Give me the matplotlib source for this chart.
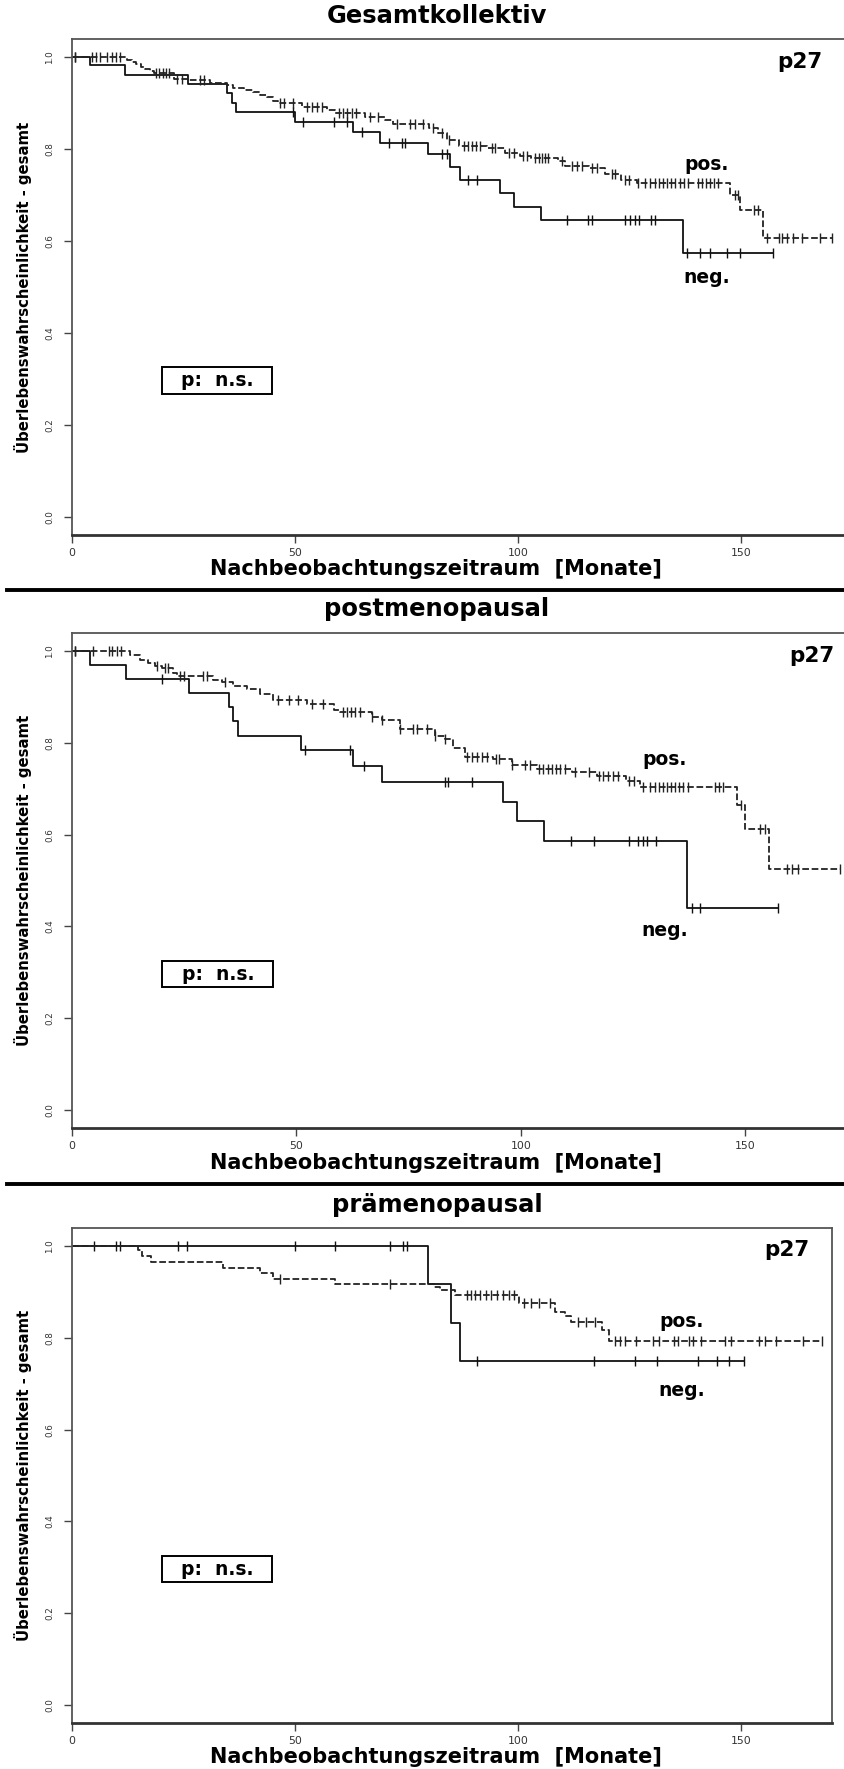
import matplotlib
matplotlib.use("Agg")
import matplotlib.pyplot as plt
from matplotlib.lines import Line2D
from matplotlib.patches import Rectangle
import numpy as np

plt.rcParams['font.family'] = 'DejaVu Sans'

titles = ["Gesamtkollektiv", "postmenopausal", "prämenopausal"]
xlab = "Nachbeobachtungszeitraum  [Monate]"
ylab = "Überlebenswahrscheinlichkeit - gesamt"

# Gesamtkollektiv: event times (Monate), survival after event, censor times
neg1_t = [4.0, 11.9, 26.0, 34.7, 36.0, 36.8, 50.0, 63.0, 69.1, 79.9, 84.8, 87.0, 96.0, 99.0, 105.2, 136.9]
neg1_s = [0.983, 0.962, 0.943, 0.922, 0.901, 0.880, 0.859, 0.837, 0.814, 0.790, 0.761, 0.734, 0.705, 0.675, 0.646, 0.573]
neg1_c = [0.8, 49.5, 51.9, 58.8, 61.8, 65.0, 71.0, 74.0, 74.7, 82.9, 84.0, 88.9, 90.8, 111.0, 115.8, 116.5,
          123.9, 125.2, 126.2, 127.1, 129.9, 130.8, 137.8, 140.8, 143.1, 146.8, 149.8, 157.2]

pos1_t = [12.5, 13.5, 14.5, 15.5, 16.5, 17.5, 18.5, 23.0, 26.0, 31.0, 34.7, 36.2, 38.5, 40.7, 42.2, 43.7, 45.2,
          46.3, 51.5, 57.1, 59.0, 65.7, 70.2, 72.1, 80.0, 82.0, 84.2, 86.7, 93.0, 97.0, 100.5, 103.0, 109.0,
          110.5, 116.0, 119.5, 123.0, 126.6, 147.5, 149.8, 155.0]
pos1_s = [0.995, 0.990, 0.985, 0.980, 0.975, 0.970, 0.966, 0.953, 0.950, 0.945, 0.939, 0.933, 0.928, 0.924,
          0.919, 0.913, 0.906, 0.901, 0.893, 0.886, 0.879, 0.870, 0.864, 0.855, 0.846, 0.836, 0.821, 0.807,
          0.803, 0.792, 0.785, 0.781, 0.775, 0.763, 0.759, 0.745, 0.734, 0.727, 0.701, 0.667, 0.607]
pos1_c = [0.8, 4.5, 5.4, 6.3, 8.0, 9.0, 9.9, 10.8, 18.9, 19.6, 20.4, 21.1, 21.9, 23.7, 24.7, 28.7, 29.7,
          46.7, 47.6, 49.7, 52.7, 53.8, 54.9, 56.0, 60.0, 60.9, 61.8, 62.7, 63.7, 66.9, 68.7, 72.8, 75.8,
          76.9, 78.8, 81.0, 83.0, 84.6, 87.8, 88.7, 89.6, 90.5, 91.5, 94.1, 94.9, 97.9, 99.0, 101.2, 102.0,
          103.8, 104.6, 105.3, 106.1, 106.8, 109.8, 112.0, 113.2, 114.3, 116.5, 117.7, 121.0, 121.8, 124.0,
          124.8, 127.0, 128.5, 129.6, 130.6, 131.5, 132.4, 133.3, 134.3, 135.2, 136.2, 137.1, 138.1, 140.4,
          141.2, 142.1, 143.1, 144.0, 144.9, 148.7, 149.3, 152.8, 153.7, 155.8, 158.4, 159.1, 160.2, 161.7,
          163.6, 167.7, 170.3]

# postmenopausal
neg2_t = [4.1, 12.2, 26.2, 35.1, 36.0, 37.1, 51.1, 62.7, 69.0, 96.1, 99.1, 105.2, 137.1]
neg2_s = [0.971, 0.940, 0.909, 0.878, 0.848, 0.815, 0.784, 0.750, 0.714, 0.672, 0.630, 0.586, 0.440]
neg2_c = [0.8, 20.0, 52.0, 62.0, 65.0, 83.1, 83.9, 89.1, 111.2, 116.2, 124.2, 126.1, 127.2, 128.1, 130.1,
          138.1, 139.9, 157.2]

pos2_t = [13.0, 15.2, 17.1, 18.6, 20.0, 22.6, 23.4, 31.5, 33.5, 36.0, 39.0, 41.9, 44.9, 52.3, 58.3, 59.8,
          66.8, 69.0, 73.1, 80.9, 83.1, 85.0, 87.5, 93.8, 98.0, 103.5, 111.5, 117.0, 123.5, 126.6, 148.1,
          150.0, 155.2]
pos2_s = [0.991, 0.982, 0.975, 0.969, 0.964, 0.953, 0.947, 0.938, 0.933, 0.925, 0.918, 0.906, 0.893, 0.884,
          0.873, 0.867, 0.857, 0.851, 0.830, 0.815, 0.808, 0.788, 0.770, 0.766, 0.751, 0.744, 0.736, 0.727,
          0.718, 0.703, 0.665, 0.612, 0.524]
pos2_c = [0.8, 4.8, 8.2, 9.0, 10.0, 10.9, 19.1, 20.8, 21.5, 24.1, 25.0, 29.3, 30.1, 34.1, 46.0, 48.3, 50.3,
          53.5, 56.0, 60.4, 61.2, 62.1, 63.1, 64.1, 66.8, 69.0, 73.1, 76.1, 76.8, 79.1, 80.9, 83.1, 88.0,
          89.1, 90.2, 91.3, 92.4, 94.4, 95.2, 98.0, 100.9, 102.1, 104.1, 105.0, 106.0, 106.9, 107.9, 108.8,
          109.9, 112.1, 115.1, 117.3, 118.4, 119.5, 120.6, 121.7, 124.0, 125.1, 127.3, 128.8, 129.8, 130.7,
          131.6, 132.5, 133.5, 134.4, 135.3, 136.2, 137.2, 143.3, 144.2, 145.1, 149.1, 153.3, 154.3, 159.2,
          160.3, 161.8, 171.1]

# prämenopausal
neg3_t = [79.9, 85.0, 87.0]
neg3_s = [0.917, 0.833, 0.750]
neg3_c = [4.9, 9.9, 10.8, 23.9, 25.9, 50.0, 59.0, 71.2, 74.2, 75.1, 90.8, 117.0, 126.2, 131.0, 140.3, 144.5,
          147.2, 150.6]

pos3_t = [14.9, 15.8, 17.7, 34.0, 42.1, 45.2, 59.0, 81.1, 82.5, 85.8, 100.1, 108.3, 110.6, 111.9, 118.8, 120.3]
pos3_s = [0.992, 0.978, 0.965, 0.953, 0.941, 0.929, 0.917, 0.911, 0.904, 0.893, 0.876, 0.857, 0.849, 0.835,
          0.817, 0.793]
pos3_c = [46.7, 71.2, 88.5, 89.5, 90.4, 91.5, 92.8, 94.0, 95.2, 96.5, 97.9, 99.0, 101.2, 102.9, 104.7, 107.1,
          113.5, 115.3, 117.3, 121.6, 122.8, 124.0, 126.4, 130.3, 131.5, 134.9, 135.8, 138.3, 139.1, 141.0,
          146.4, 147.6, 154.0, 155.4, 157.8, 163.9, 168.1]

panels = [
    ((neg1_t, neg1_s, neg1_c), (pos1_t, pos1_s, pos1_c)),
    ((neg2_t, neg2_s, neg2_c), (pos2_t, pos2_s, pos2_c)),
    ((neg3_t, neg3_s, neg3_c), (pos3_t, pos3_s, pos3_c)),
]

yticks = [0.0, 0.2, 0.4, 0.6, 0.8, 1.0]
xticks = [0, 50, 100, 150]

# layout in pixels: top, bottom, right edge of each plot box; x range
W, H = 845, 1769
L = 71.7
boxes = [(39, 535, 850), (633, 1128, 850), (1228, 1723, 832)]
xmax = [174.4, 173.3, 170.3]
title_y = [24.5, 617.5, 1213]
xlab_y = [568.7, 1163, 1757]
pos_xy = [(142.2, 0.767), (132.0, 0.765), (136.7, 0.836)]
neg_xy = [(142.2, 0.520), (132.0, 0.391), (136.7, 0.686)]
p27_xy = [(163.2, 0.990), (164.7, 0.989), (160.2, 0.992)]


def km(ax, t, s, c, **kw):
    t = np.array(t)
    s = np.array(s)
    c = np.array(c)
    end = max(t.max(), c.max())
    ax.plot(np.r_[0, t, end], np.r_[1, s, s[-1]], drawstyle='steps-post', **kw)
    yc = np.r_[1, s][np.searchsorted(t, c, side='right')]
    ax.plot(c, yc, ls='none', marker='|', ms=7.5, mew=1.0, color=kw.get('color', 'k'))


fig = plt.figure(figsize=(W / 100, H / 100), dpi=100)

for i, (neg, pos) in enumerate(panels):
    top, bot, right = boxes[i]
    ax = fig.add_axes([L / W, 1 - bot / H, (right - L) / W, (bot - top) / H])
    ax.set_xlim(0, xmax[i])
    ax.set_ylim(-0.04, 1.04)

    km(ax, *neg, color='#111111', lw=1.3)
    km(ax, *pos, color='#222222', lw=1.3, ls=(0, (3.7, 1.5)))

    ax.set_xticks(xticks)
    ax.set_xticklabels([str(v) for v in xticks])
    ax.set_yticks(yticks)
    ax.set_yticklabels(["%.1f" % v for v in yticks], rotation=90, va='center')
    ax.tick_params(axis='both', direction='out', length=5.8, width=1.0, color='#444444',
                   labelcolor='#333333')
    ax.tick_params(axis='x', pad=3.4, labelsize=7.8)
    ax.tick_params(axis='y', pad=7, labelsize=6.3)
    for sp in ax.spines.values():
        sp.set_color('#555555')
        sp.set_linewidth(1.3)
    ax.spines['bottom'].set_color('#333333')
    ax.spines['bottom'].set_linewidth(2.0)

    hpx = bot - top
    wpx = right - L
    ax.set_title(titles[i], fontsize=17.5, fontweight='bold', va='center',
                 x=(437 - L) / wpx, y=(bot - title_y[i]) / hpx)
    ax.set_xlabel(xlab, fontsize=15, fontweight='bold', va='center')
    ax.xaxis.set_label_coords((436 - L) / wpx, (bot - xlab_y[i]) / hpx)
    ax.set_ylabel(ylab, fontsize=10.7, fontweight='bold', va='center')
    ax.yaxis.set_label_coords((23 - L) / wpx, 0.5)

    ax.text(*pos_xy[i], "pos.", fontsize=13.5, fontweight='bold', ha='center', va='center')
    ax.text(*neg_xy[i], "neg.", fontsize=13.5, fontweight='bold', ha='center', va='center')
    ax.text(*p27_xy[i], "p27", fontsize=15.5, fontweight='bold', ha='center', va='center')

    ax.add_patch(Rectangle((20.2, 0.267), 24.7, 0.058, fill=True, fc='white', ec='black', lw=1.4, zorder=3))
    ax.text(32.7, 0.296, "p:  n.s.", fontsize=13.5, fontweight='bold', ha='center', va='center', zorder=4)

for ysep in [590, 1184]:
    fig.add_artist(Line2D([7.5 / W, 1.0], [1 - ysep / H, 1 - ysep / H], color='black', lw=2.8))

fig.savefig("out.png", dpi=100)
